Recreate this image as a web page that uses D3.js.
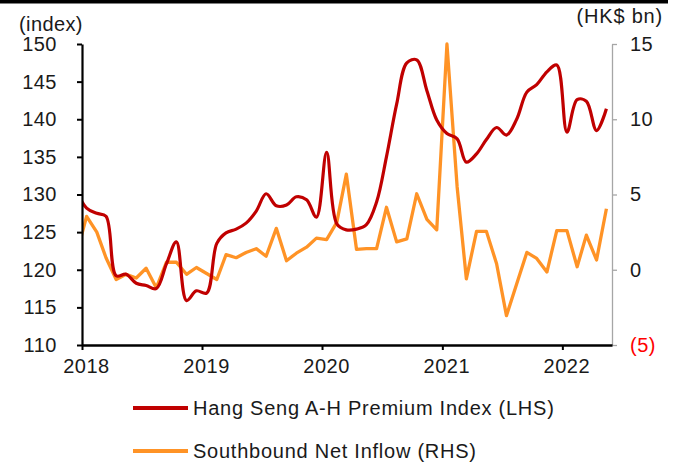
<!DOCTYPE html>
<html>
<head>
<meta charset="utf-8">
<script src="https://cdn.jsdelivr.net/npm/d3@7"></script>
<style>
  html, body { margin: 0; padding: 0; background: #fff; }
  svg { display: block; font-family: Arial, "Liberation Sans", sans-serif; }
</style>
</head>
<body>
<svg id="chart" width="676" height="466"></svg>
<script>
// ---- data (mid-month observations; Dec 2017 point only feeds the clipped line start)
const months = [
  "2017-12",
  "2018-01","2018-02","2018-03","2018-04","2018-05","2018-06","2018-07","2018-08","2018-09","2018-10","2018-11","2018-12",
  "2019-01","2019-02","2019-03","2019-04","2019-05","2019-06","2019-07","2019-08","2019-09","2019-10","2019-11","2019-12",
  "2020-01","2020-02","2020-03","2020-04","2020-05","2020-06","2020-07","2020-08","2020-09","2020-10","2020-11","2020-12",
  "2021-01","2021-02","2021-03","2021-04","2021-05","2021-06","2021-07","2021-08","2021-09","2021-10","2021-11","2021-12",
  "2022-01","2022-02","2022-03","2022-04","2022-05"
];
const premiumIndex = [
  130.5,
  128.2,127.5,127.1,119.2,119.4,118.2,117.9,117.5,120.8,123.7,115.9,117.2,
  116.9,123.5,124.9,125.4,126.2,127.8,130.1,128.5,128.6,129.7,129.3,127.0,
  135.6,126.1,125.3,125.4,126.0,129.0,135.0,142.0,147.5,147.9,143.8,139.9,
  138.1,137.4,134.3,135.4,137.3,138.9,137.9,140.0,143.6,144.6,146.3,147.2,
  138.3,142.6,142.4,138.5,141.4
];
const southboundInflow = [
  1.0,
  3.55,2.5,0.8,-0.65,-0.3,-0.55,0.1,-1.2,0.5,0.5,-0.3,0.15,
  -0.25,-0.65,1.0,0.8,1.15,1.4,0.9,2.75,0.6,1.1,1.5,2.1,
  2.0,3.15,6.35,1.35,1.4,1.4,4.15,1.85,2.05,5.05,3.35,2.65,
  15.0,5.5,-0.6,2.55,2.55,0.4,-3.05,-0.95,1.15,0.75,-0.15,2.6,
  2.6,0.2,2.3,0.65,4.05
];
const leftTicks = [110,115,120,125,130,135,140,145,150];
const rightTicks = [-5,0,5,10,15];
const yearTicks = ["2018","2019","2020","2021","2022"];
const seriesNames = ["Hang Seng A-H Premium Index (LHS)", "Southbound Net Inflow (RHS)"];
const seriesColors = ["#C00000", "#FF9326"];
const leftUnit = "(index)";
const rightUnit = "(HK$ bn)";

// ---- layout
const svg = d3.select("#chart");
const X0 = 82, X1 = 612, Y0 = 44, Y1 = 345;
const parseM = d3.timeParse("%Y-%m-%d");
const dates = months.map(m => parseM(m + "-15"));

const x = d3.scaleTime()
  .domain([parseM("2018-01-01"), parseM("2022-06-01")])
  .range([X0, X1]);
const yL = d3.scaleLinear().domain([110, 150]).range([Y1, Y0]);
const yR = d3.scaleLinear().domain([-5, 15]).range([Y1, Y0]);

const FONT = "Arial, 'Liberation Sans', sans-serif";
const textColor = "#1a1a1a";

// top black rule
svg.append("rect").attr("x", 0).attr("y", 0).attr("width", 668).attr("height", 3.5).attr("fill", "#000");

// clip so lines start at the left axis
svg.append("defs").append("clipPath").attr("id", "plotclip")
  .append("rect").attr("x", X0).attr("y", 0).attr("width", 676 - X0).attr("height", 466);

// lines
const g = svg.append("g").attr("clip-path", "url(#plotclip)");
const lineR = d3.line().x((d, i) => x(dates[i])).y(d => yR(d)).curve(d3.curveLinear);
const lineL = d3.line().x((d, i) => x(dates[i])).y(d => yL(d)).curve(d3.curveCatmullRom.alpha(0.5));

g.append("path").datum(southboundInflow).attr("d", lineR)
  .attr("fill", "none").attr("stroke", seriesColors[1]).attr("stroke-width", 3.3)
  .attr("stroke-linejoin", "round");
g.append("path").datum(premiumIndex).attr("d", lineL)
  .attr("fill", "none").attr("stroke", seriesColors[0]).attr("stroke-width", 3.2)
  .attr("stroke-linejoin", "round");

// right axis (gray)
const axR = svg.append("g").attr("transform", `translate(${X1},0)`)
  .call(d3.axisRight(yR).tickValues(rightTicks).tickSize(5).tickSizeOuter(0).tickPadding(13)
    .tickFormat(d => d < 0 ? `(${-d})` : `${d}`));
axR.select(".domain").attr("stroke", "#A6A6A6").attr("stroke-width", 1.3);
axR.selectAll(".tick line").attr("stroke", "#A6A6A6").attr("stroke-width", 1.3);
axR.selectAll(".tick text").attr("font-size", 20).attr("font-family", FONT).attr("letter-spacing", 0.5)
  .attr("fill", d => d < 0 ? "#FF0000" : textColor);

// left axis
const axL = svg.append("g").attr("transform", `translate(${X0},0)`)
  .call(d3.axisLeft(yL).tickValues(leftTicks).tickSize(5).tickSizeOuter(0).tickPadding(20));
axL.select(".domain").attr("stroke", "#000").attr("stroke-width", 2.2);
axL.selectAll(".tick line").attr("stroke", "#000").attr("stroke-width", 2);
axL.selectAll(".tick text").attr("font-size", 20).attr("font-family", FONT).attr("letter-spacing", 0.5)
  .attr("fill", textColor);

// x axis
const yearDates = yearTicks.map(yv => parseM(yv + "-01-01"));
const axX = svg.append("g").attr("transform", `translate(0,${Y1})`)
  .call(d3.axisBottom(x).tickValues(yearDates).tickSize(5).tickSizeOuter(0).tickPadding(9)
    .tickFormat(d3.timeFormat("%Y")));
axX.select(".domain").attr("stroke", "#000").attr("stroke-width", 2.4);
axX.selectAll(".tick line").attr("stroke", "#000").attr("stroke-width", 2);
axX.selectAll(".tick text").attr("font-size", 20).attr("font-family", FONT).attr("letter-spacing", 0.5)
  .attr("fill", textColor).attr("dx", 4);

// unit labels
svg.append("text").attr("x", 19).attr("y", 31).attr("font-size", 20).attr("letter-spacing", 0.4)
  .attr("fill", textColor).text(leftUnit);
svg.append("text").attr("x", 663).attr("y", 23).attr("text-anchor", "end").attr("font-size", 20)
  .attr("letter-spacing", 0.8).attr("fill", textColor).text(rightUnit);

// legend
const legY = [408, 451];
const leg = svg.append("g");
seriesNames.forEach((name, i) => {
  leg.append("line").attr("x1", 133).attr("x2", 188).attr("y1", legY[i]).attr("y2", legY[i])
    .attr("stroke", seriesColors[i]).attr("stroke-width", 3.8);
  leg.append("text").attr("x", 193).attr("y", legY[i]).attr("dy", "0.35em")
    .attr("font-size", 20).attr("letter-spacing", 0.75).attr("fill", textColor).text(name);
});
</script>
</body>
</html>
